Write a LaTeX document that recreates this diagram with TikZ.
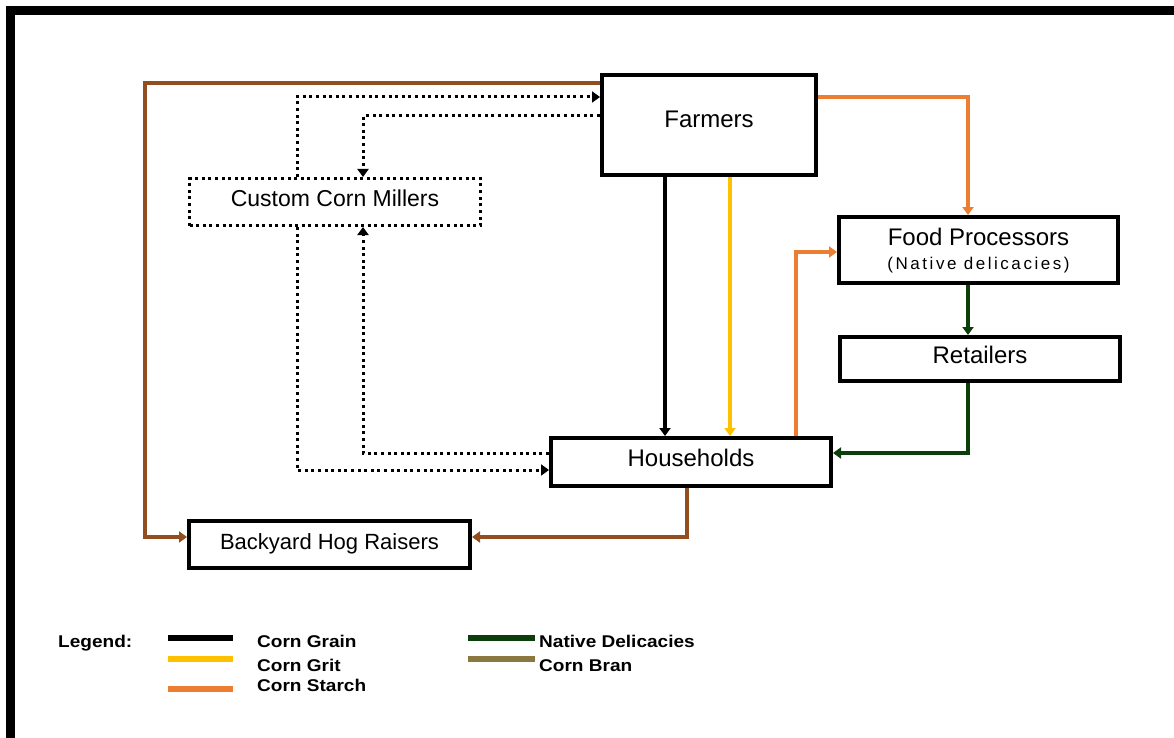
\documentclass[tikz,border=0pt]{standalone}
\usepackage{fontspec}
\setmainfont{Liberation Sans}
\newfontfamily\notefont{Liberation Sans}[LetterSpace=15]
\newfontfamily\legendfont{Liberation Sans}[FakeStretch=1.12]
\usetikzlibrary{arrows.meta}

\definecolor{branbrown}{RGB}{146,78,30}
\definecolor{starch}{RGB}{237,125,49}
\definecolor{grit}{RGB}{255,192,0}
\definecolor{delic}{RGB}{12,62,12}
\definecolor{bran}{RGB}{139,120,64}

\begin{document}
\begin{tikzpicture}[x=1pt,y=-1pt,
  box/.style={draw=black, line width=4pt, fill=white, inner sep=0pt,
    text height=17pt, text depth=8pt, font=\fontsize{24}{28}\selectfont},
  millbox/.style={draw=black, line width=3pt, dash pattern=on 3pt off 3.6pt,
    fill=white, inner sep=0pt, text height=17pt, text depth=9pt,
    font=\fontsize{23}{27}\selectfont},
  flow/.style={line width=3.4pt, -{Triangle[width=11pt,length=8pt]}},
  dotflow/.style={line width=3pt, black, dash pattern=on 3pt off 3.6pt,
    -{Triangle[width=11pt,length=8pt,sep=0pt]}},
  legline/.style={line width=6pt},
  legtext/.style={anchor=base west, inner sep=0pt,
    font=\legendfont\bfseries\fontsize{17}{20}\selectfont}
]
\useasboundingbox (0,0) rectangle (1174,738);

% page frame (top and left edges)
\draw[line width=9pt, miter limit=10] (10.5,738) -- (10.5,11) -- (1174,11);

% actors
\node[box, minimum width=214pt, minimum height=100pt, text depth=11pt] (farmers) at (709,125) {Farmers};
\node[millbox, minimum width=291pt, minimum height=47pt] (millers) at (335,202) {Custom Corn Millers};
\node[box, minimum width=279pt, minimum height=66pt] (food) at (978.5,250) {};
\node[inner sep=0pt, font=\fontsize{24}{28}\selectfont] (foodname) at ([yshift=13pt]food.center) {Food Processors};
\node[inner sep=0pt, font=\notefont\fontsize{17}{20}\selectfont] (foodnote) at ([yshift=-15pt]food.center) {(Native delicacies)};
\node[box, minimum width=280pt, minimum height=44pt] (retail) at (980,359) {Retailers};
\node[box, minimum width=280pt, minimum height=48pt] (house) at (691,462) {Households};
\node[box, minimum width=281pt, minimum height=47pt, font=\fontsize{22}{26}\selectfont] (hog) at (329.5,544.5) {Backyard Hog Raisers};

% routing guides
\coordinate (hogL) at (145,0);
\coordinate (topBrown) at (0,83);
\coordinate (branX) at (687,0);
\coordinate (branY) at (0,537);
\coordinate (grainX) at (665,0);
\coordinate (gritX) at (730,0);
\coordinate (starchX) at (796,0);
\coordinate (starchY) at (0,252);
\coordinate (orangeY) at (0,97);
\coordinate (fpX) at (968,0);
\coordinate (retY) at (0,453);
\coordinate (dotA) at (0,97);
\coordinate (dotB) at (0,116);
\coordinate (dotL) at (297,0);
\coordinate (dotR) at (363,0);
\coordinate (dotC) at (0,470);
\coordinate (dotD) at (0,453);

% corn bran
\draw[flow, branbrown] (farmers.west |- topBrown) -| (hogL |- branY) -- (hog.west |- branY);
\draw[flow, branbrown] (house.south -| branX) |- (hog.east |- branY);
% corn grain and grit
\draw[flow, black] (farmers.south -| grainX) -- (house.north -| grainX);
\draw[flow, grit] (farmers.south -| gritX) -- (house.north -| gritX);
% corn starch
\draw[flow, starch] (house.north -| starchX) |- (food.west |- starchY);
\draw[flow, starch] (farmers.east |- orangeY) -| (food.north -| fpX);
% native delicacies
\draw[flow, delic] (food.south -| fpX) -- (retail.north -| fpX);
\draw[flow, delic] (retail.south -| fpX) |- (house.east |- retY);
% custom milling
\draw[dotflow] (millers.north -| dotL) |- (farmers.west |- dotA);
\draw[dotflow] (farmers.west |- dotB) -| (millers.north -| dotR);
\draw[dotflow] (millers.south -| dotL) |- (house.west |- dotC);
\draw[dotflow] (house.west |- dotD) -| (millers.south -| dotR);

% legend
\node[legtext] (legend) at (58,647) {Legend:};
\draw[legline, black] (168,638) -- (233,638);
\node[legtext] (lgrain) at (257,647) {Corn Grain};
\draw[legline, grit] (168,659) -- (233,659);
\node[legtext] (lgrit) at (257,671) {Corn Grit};
\draw[legline, starch] (168,689) -- (233,689);
\node[legtext] (lstarch) at (257,691) {Corn Starch};
\draw[legline, delic] (468,638) -- (535,638);
\node[legtext] (ldelic) at (539,647) {Native Delicacies};
\draw[legline, bran] (468,659) -- (535,659);
\node[legtext] (lbran) at (539,671) {Corn Bran};
\end{tikzpicture}
\end{document}
